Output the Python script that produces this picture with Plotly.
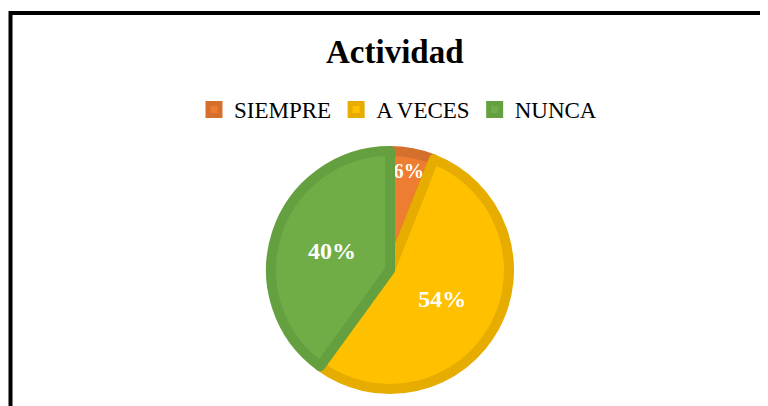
import plotly.graph_objects as go

categories = ["SIEMPRE", "A VECES", "NUNCA"]
values = [6, 54, 40]
fill_colors = ["#ED7D31", "#FFC000", "#70AD47"]
edge_colors = ["#D5702C", "#E6AD00", "#64A03F"]
title_text = "Actividad"

W, H = 768, 406
OFF = 8  # page body margin
cx, cy, r = 390 - OFF, 270 - OFF, 119

fig = go.Figure(go.Pie(
    labels=categories,
    values=values,
    sort=False,
    direction="clockwise",
    rotation=0,
    marker=dict(colors=fill_colors, line=dict(color=edge_colors, width=10)),
    textinfo="percent",
    texttemplate="%{percent:.0%}",
    textposition="inside",
    insidetextorientation="horizontal",
    textfont=dict(family="Liberation Serif", size=24, color="white", weight="bold"),
    domain=dict(x=[(cx - r) / W, (cx + r) / W], y=[1 - (cy + r) / H, 1 - (cy - r) / H]),
    hoverinfo="label+percent",
))

fig.update_layout(
    width=W, height=H,
    margin=dict(l=0, r=0, t=0, b=0),
    paper_bgcolor="white",
    plot_bgcolor="white",
    font=dict(family="Liberation Serif", color="black"),
    showlegend=True,
    legend=dict(
        orientation="h",
        x=(398 - OFF) / W, xanchor="center",
        y=1 - 80 / H, yanchor="top",
        font=dict(family="Liberation Serif", size=23, color="black"),
        itemwidth=30,
        traceorder="normal",
    ),
    annotations=[dict(
        text="<b>" + title_text + "</b>",
        x=(395 - OFF) / W, y=1 - (52 - OFF) / H, xref="paper", yref="paper",
        xanchor="center", yanchor="middle", showarrow=False,
        font=dict(family="Liberation Serif", size=33, color="black"),
    )],
    shapes=[dict(
        type="rect", xref="paper", yref="paper",
        x0=(10.5 - OFF) / W, x1=1.05, y0=-0.05, y1=1 - (13 - OFF) / H,
        line=dict(color="black", width=4),
    )],
)

fig.write_html("out.html")
